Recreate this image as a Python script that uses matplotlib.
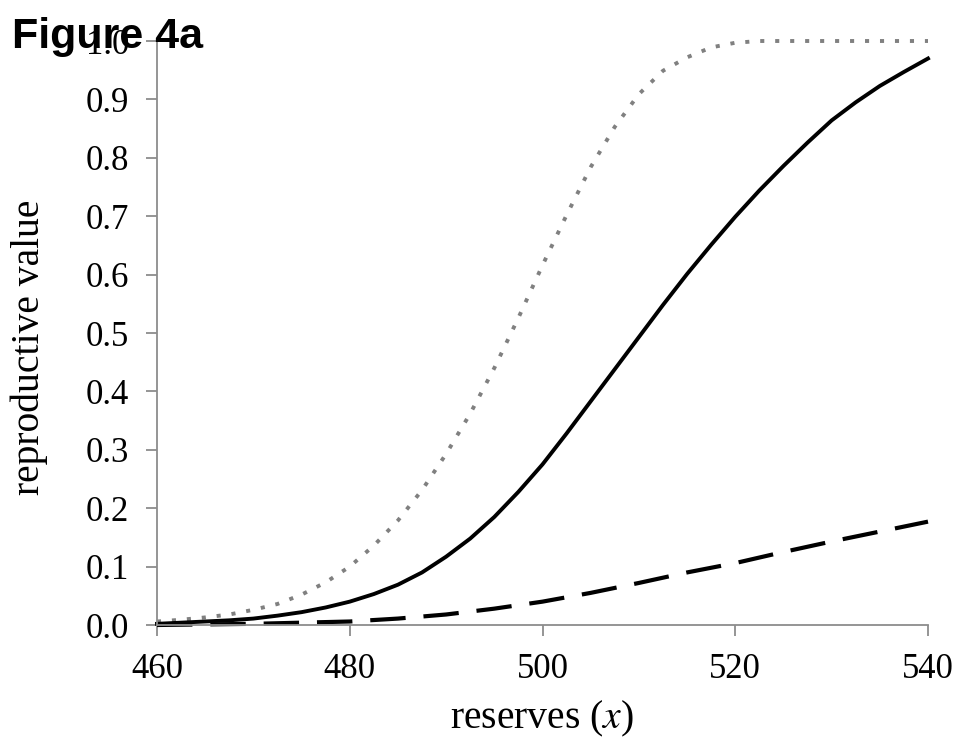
import matplotlib
matplotlib.use("Agg")
import matplotlib.pyplot as plt

# Data
reserves = [460, 462.5, 465, 467.5, 470, 472.5, 475, 477.5, 480, 482.5, 485, 487.5, 490,
            492.5, 495, 497.5, 500, 502.5, 505, 507.5, 510, 512.5, 515, 517.5, 520,
            522.5, 525, 527.5, 530, 532.5, 535, 537.5, 540]
solid_vals = [0.002, 0.004, 0.006, 0.008, 0.011, 0.016, 0.022, 0.03, 0.04, 0.053, 0.069, 0.09, 0.117,
              0.148, 0.185, 0.228, 0.275, 0.328, 0.383, 0.438, 0.493, 0.548, 0.601, 0.651, 0.699,
              0.744, 0.786, 0.826, 0.864, 0.895, 0.923, 0.947, 0.97]
dotted_vals = [0.006, 0.009, 0.013, 0.018, 0.026, 0.036, 0.052, 0.073, 0.10, 0.136, 0.179, 0.231, 0.293,
               0.362, 0.44, 0.526, 0.616, 0.702, 0.784, 0.853, 0.909, 0.949, 0.972, 0.989, 0.997,
               1.0, 1.0, 1.0, 1.0, 1.0, 1.0, 1.0, 1.0]
dashed_x = [460, 465, 470, 475, 480, 485, 490, 495, 500, 505, 510, 515, 520, 525, 530, 535, 540]
dashed_vals = [0.0, 0.001, 0.002, 0.004, 0.006, 0.011, 0.018, 0.028, 0.04, 0.055, 0.072, 0.09,
               0.106, 0.125, 0.143, 0.16, 0.177]
yticks = [0.0, 0.1, 0.2, 0.3, 0.4, 0.5, 0.6, 0.7, 0.8, 0.9, 1.0]
ytick_labels = ["0.0", "0.1", "0.2", "0.3", "0.4", "0.5", "0.6", "0.7", "0.8", "0.9", "1.0"]
xticks = [460, 480, 500, 520, 540]
xtick_labels = ["460", "480", "500", "520", "540"]

plt.rcParams['font.family'] = ['Liberation Serif', 'DejaVu Serif']
plt.rcParams['mathtext.fontset'] = 'stix'

fig = plt.figure(figsize=(9.61, 7.42), dpi=100)
ax = fig.add_axes([157/961, 1-625/742, 771/961, 584/742])

ax.plot(reserves, dotted_vals, color='#808080', lw=2.8,
        linestyle=(0, (1.05, 2.8)), solid_capstyle='butt', dash_capstyle='butt', clip_on=False)
ax.plot(reserves, solid_vals, color='black', lw=2.8, clip_on=False)
ax.plot(dashed_x, dashed_vals, color='black', lw=3.0,
        linestyle=(0, (8.5, 4.3)), dash_capstyle='butt', clip_on=False)

ax.set_xlim(460, 540)
ax.set_ylim(0, 1.0)
ax.set_xticks(xticks)
ax.set_xticklabels(xtick_labels)
ax.set_yticks(yticks)
ax.set_yticklabels(ytick_labels)

for s in ['top', 'right']:
    ax.spines[s].set_visible(False)
for s in ['left', 'bottom']:
    ax.spines[s].set_color('#8c8c8c')
    ax.spines[s].set_linewidth(1.3)

ax.tick_params(axis='both', direction='out', length=8, width=1.3, color='#8c8c8c',
               labelsize=25, labelcolor='black')
ax.tick_params(axis='y', pad=12)
ax.tick_params(axis='x', pad=12)

ax.set_ylabel('reproductive value', fontsize=28.5)
ax.yaxis.set_label_coords(-0.1415, 0.476)
ax.set_xlabel('reserves ($x$)', fontsize=28.5)
ax.xaxis.set_label_coords(0.5, -0.127)

fig.text(12/961, 1-48/742, 'Figure 4a', family=['Liberation Sans', 'DejaVu Sans'],
         fontweight='bold', fontsize=31, va='baseline', ha='left')

fig.savefig('out.png', dpi=100)
